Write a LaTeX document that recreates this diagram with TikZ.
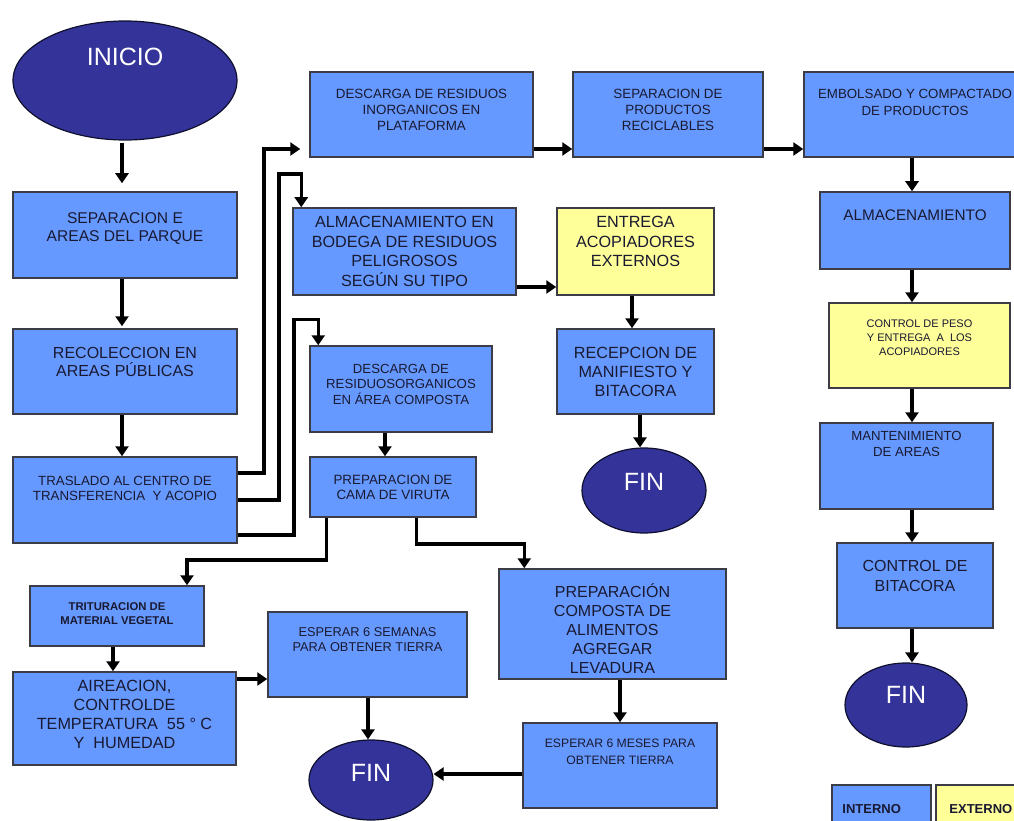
\documentclass[tikz,border=0pt]{standalone}
\usepackage{fontspec}
\setmainfont{Liberation Sans}
\usetikzlibrary{arrows.meta, shapes.geometric, positioning}

\definecolor{intblue}{RGB}{102,153,255}
\definecolor{extyellow}{RGB}{255,255,153}
\definecolor{endblue}{RGB}{51,51,153}
\definecolor{boxline}{RGB}{60,60,70}
\definecolor{boxtext}{RGB}{25,25,50}

\begin{document}
\begin{tikzpicture}[x=1pt, y=-1pt,
  flow/.style={line width=3.5pt, -{Triangle[length=10pt,width=13pt]}},
  ibox/.style={draw=boxline, line width=1.5pt, fill=intblue, inner sep=0pt},
  ebox/.style={ibox, fill=extyellow},
  term/.style={ellipse, draw=black!70!endblue, line width=1.2pt, fill=endblue, inner sep=0pt},
  fs/.style 2 args={font=\fontsize{#1}{#2}\selectfont},
  fsb/.style 2 args={font=\fontsize{#1}{#2}\selectfont\bfseries},
  btext/.style={anchor=north, align=center, inner sep=0pt, text=boxtext, yshift=-9pt},
  ttext/.style={anchor=center, inner sep=0pt, text=white, fs={25}{30}},
]
\useasboundingbox (0,0) rectangle (1014,821);

% Draw the main column
\node[term, minimum width=224pt, minimum height=119pt, label={[ttext, yshift=23.5pt]center:INICIO}] (inicio) at (125,80.5) {};
\node[ibox, minimum width=224pt, minimum height=86pt, label={[btext, fs={15.6}{18}, yshift=-12.5pt]north:{SEPARACION E\\AREAS DEL PARQUE}}] (sepa) at (125,235) {};
\node[ibox, minimum width=224pt, minimum height=85pt, label={[btext, fs={16}{18}, yshift=-10pt]north:{RECOLECCION EN\\AREAS PÚBLICAS}}] (reco) at (125,371.5) {};
\node[ibox, minimum width=224pt, minimum height=86pt, label={[btext, fs={13.3}{15}, yshift=-10.5pt]north:{TRASLADO AL CENTRO DE\\TRANSFERENCIA\ \ Y ACOPIO}}] (tras) at (125,500) {};

% Draw the inorganic branch
\node[ibox, minimum width=223pt, minimum height=85pt, label={[btext, fs={13.4}{16}, yshift=-8.5pt]north:{DESCARGA DE RESIDUOS\\INORGANICOS EN\\PLATAFORMA}}] (desi) at (421.5,114.5) {};
\node[ibox, minimum width=190pt, minimum height=85pt, label={[btext, fs={13.4}{16}, yshift=-8.5pt]north:{SEPARACION DE\\PRODUCTOS\\RECICLABLES}}] (sepr) at (668,114.5) {};
\node[ibox, minimum width=222pt, minimum height=85pt, label={[btext, fs={13.3}{17}, yshift=-8.5pt]north:{EMBOLSADO Y COMPACTADO\\DE PRODUCTOS}}] (embo) at (915,114.5) {};
\node[ibox, minimum width=190pt, minimum height=77pt, label={[btext, fs={15.3}{18}, yshift=-9.5pt]north:{ALMACENAMIENTO}}] (alma) at (915,230.5) {};
\node[ebox, minimum width=181pt, minimum height=85pt, label={[btext, fs={11}{14}, yshift=-8pt]north:{CONTROL DE PESO\\Y ENTREGA\ \ A\ \ LOS\\ACOPIADORES}}] (cpes) at (919.5,345.5) {};
\node[ibox, minimum width=173pt, minimum height=86pt, label={[btext, fs={13.2}{16}]north:{MANTENIMIENTO\\DE AREAS}}] (mant) at (906.5,466) {};
\node[ibox, minimum width=156pt, minimum height=85pt, label={[btext, fs={16}{20}, yshift=-8.5pt]north:{CONTROL DE\\BITACORA}}] (cbit) at (915,585.5) {};
\node[term, minimum width=122pt, minimum height=84pt, label={[ttext, yshift=10pt]center:FIN}] (fin2) at (906,705) {};

% Draw the hazardous branch
\node[ibox, minimum width=223pt, minimum height=87pt, label={[btext, fs={16.2}{19.5}]north:{ALMACENAMIENTO EN\\BODEGA DE RESIDUOS\\PELIGROSOS\\SEGÚN SU TIPO}}] (bode) at (404.5,251.5) {};
\node[ebox, minimum width=157pt, minimum height=87pt, label={[btext, fs={16.2}{19.5}]north:{ENTREGA\\ACOPIADORES\\EXTERNOS}}] (entr) at (635.5,251.5) {};
\node[ibox, minimum width=157pt, minimum height=85pt, label={[btext, fs={16.2}{19}, yshift=-10pt]north:{RECEPCION DE\\MANIFIESTO Y\\BITACORA}}] (rece) at (635.5,371.5) {};
\node[term, minimum width=124pt, minimum height=85pt, label={[ttext, yshift=8.5pt]center:FIN}] (fin1) at (644,490.5) {};

% Draw the organic branch
\node[ibox, minimum width=182pt, minimum height=86pt, label={[btext, fs={13.2}{15.5}, yshift=-9.5pt]north:{DESCARGA DE\\RESIDUOSORGANICOS\\EN ÁREA COMPOSTA}}] (deso) at (401,389) {};
\node[ibox, minimum width=166pt, minimum height=60pt, label={[btext, fs={13.4}{15}, yshift=-10pt]north:{PREPARACION DE\\CAMA DE VIRUTA}}] (cama) at (393,487) {};
\node[ibox, minimum width=174pt, minimum height=60pt, label={[btext, fsb={11.3}{14}, yshift=-8pt]north:{TRITURACION DE\\MATERIAL VEGETAL}}] (trit) at (117,616) {};
\node[ibox, minimum width=223pt, minimum height=93pt, label={[btext, fs={16.2}{19}]north:{AIREACION,\\CONTROLDE\\TEMPERATURA\ \ 55 ° C\\Y\ \ HUMEDAD}}] (aire) at (124.5,718.5) {};
\node[ibox, minimum width=199pt, minimum height=85pt, label={[btext, fs={12.8}{15}, yshift=-7.5pt]north:{ESPERAR 6 SEMANAS\\PARA OBTENER TIERRA}}] (esem) at (367.5,654.5) {};
\node[ibox, minimum width=227pt, minimum height=110pt, label={[btext, fs={16}{19}, yshift=-6.5pt]north:{PREPARACIÓN\\COMPOSTA DE\\ALIMENTOS\\AGREGAR\\LEVADURA}}] (pcom) at (612.5,624) {};
\node[ibox, minimum width=194pt, minimum height=85pt, label={[btext, fs={12.2}{17}, yshift=-7.5pt]north:{ESPERAR 6 MESES PARA\\OBTENER TIERRA}}] (emes) at (620,765.5) {};
\node[term, minimum width=124pt, minimum height=80pt, label={[ttext, yshift=7pt]center:FIN}] (fin3) at (371,780) {};

% Draw the legend
\node[ibox, minimum width=99pt, minimum height=50pt, label={[btext, anchor=north west, fsb={13}{15}, xshift=11pt, yshift=-10.5pt]north west:INTERNO}] (lint) at (881.5,810) {};
\node[ebox, minimum width=94pt, minimum height=50pt, label={[btext, anchor=north west, fsb={13}{15}, xshift=14pt, yshift=-10.5pt]north west:EXTERNO}] (lext) at (983,810) {};

% Draw the connectors
\coordinate (lcol) at (122,0);
\coordinate (rcol) at (912,0);
\coordinate (mcol) at (632,0);
\coordinate (fcol) at (640,0);
\coordinate (ocol) at (385,0);
\coordinate (tcol) at (113,0);
\coordinate (scol) at (368,0);
\coordinate (pcol) at (620,0);
\draw[flow, shorten <=2pt, shorten >=8pt] (inicio.south -| lcol) -- (sepa.north -| lcol);
\draw[flow, shorten >=2pt] (sepa.south -| lcol) -- (reco.north -| lcol);
\draw[flow] (reco.south -| lcol) -- (tras.north -| lcol);
\draw[flow, shorten >=9pt] ([yshift=27pt]tras.east) -- ++(26,0) |- ([yshift=-34.5pt]desi.west);
\draw[flow] (tras.east) -- ++(41,0) |- ([xshift=9pt, yshift=33pt]bode.north west) -- ([xshift=9pt]bode.north west);
\draw[flow] ([yshift=-35pt]tras.east) -- ++(56,0) |- ([xshift=9pt, yshift=26pt]deso.north west) -- ([xshift=9pt]deso.north west);
\draw[flow] ([yshift=-34.5pt]desi.east) -- ([yshift=-34.5pt]sepr.west);
\draw[flow] ([yshift=-34.5pt]sepr.east) -- ([yshift=-34.5pt]embo.west);
\draw[flow] (embo.south -| rcol) -- (alma.north -| rcol);
\draw[flow] (alma.south -| rcol) -- (cpes.north -| rcol);
\draw[flow] (cpes.south -| rcol) -- (mant.north -| rcol);
\draw[flow] (mant.south -| rcol) -- (cbit.north -| rcol);
\draw[flow] (cbit.south -| rcol) -- (fin2.north -| rcol);
\draw[flow] ([yshift=-35.5pt]bode.east) -- ([yshift=-35.5pt]bode.east -| entr.west);
\draw[flow] (entr.south -| mcol) -- (rece.north -| mcol);
\draw[flow] (rece.south -| fcol) -- (fin1.north -| fcol);
\draw[flow] (deso.south -| ocol) -- (cama.north -| ocol);
\draw[flow] ([xshift=17pt]cama.south west) -- ++(0,42) -| ([xshift=70pt]trit.north);
\draw[flow] ([xshift=107pt]cama.south west) -- ++(0,26) -| ([xshift=26pt]pcom.north west);
\draw[flow] (trit.south -| tcol) -- (aire.north -| tcol);
\draw[flow] ([yshift=39.5pt]aire.east) -- ([yshift=39.5pt]aire.east -| esem.west);
\draw[flow] (esem.south -| scol) -- (fin3.north -| scol);
\draw[flow] (pcom.south -| pcol) -- (emes.north -| pcol);
\draw[flow] ([yshift=-8.5pt]emes.west) -- ([yshift=-8.5pt]emes.west -| fin3.east);
\end{tikzpicture}
\end{document}
